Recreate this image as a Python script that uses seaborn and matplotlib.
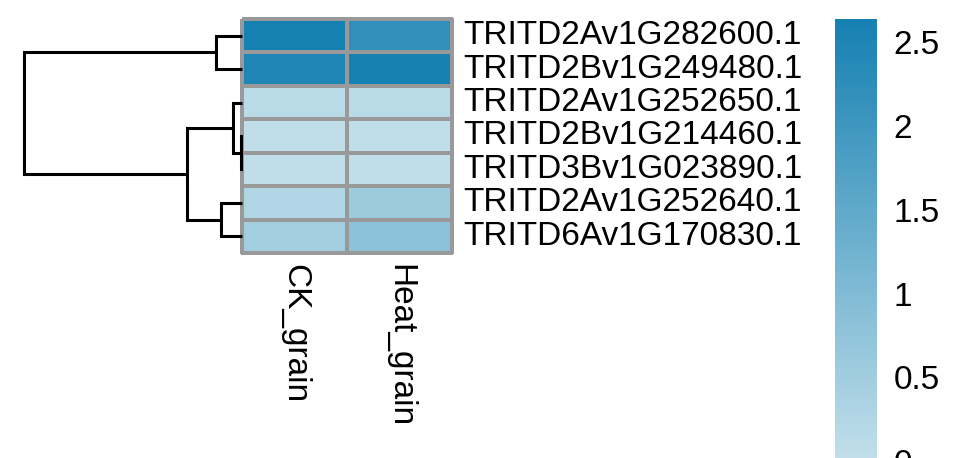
import numpy as np
import pandas as pd
import matplotlib
matplotlib.use('Agg')
import matplotlib.pyplot as plt
from matplotlib.colors import LinearSegmentedColormap
import seaborn as sns

# data (rows already in dendrogram order)
genes = ['TRITD2Av1G282600.1', 'TRITD2Bv1G249480.1', 'TRITD2Av1G252650.1',
         'TRITD2Bv1G214460.1', 'TRITD3Bv1G023890.1', 'TRITD2Av1G252640.1',
         'TRITD6Av1G170830.1']
samples = ['CK_grain', 'Heat_grain']
ck_grain = [2.64, 2.50, 0.15, 0.05, 0.04, 0.27, 0.48]
heat_grain = [2.20, 2.60, 0.15, 0.05, 0.05, 0.56, 0.82]
cbar_ticks = [0, 0.5, 1, 1.5, 2, 2.5]
cbar_labels = ['0', '0.5', '1', '1.5', '2', '2.5']

df = pd.DataFrame({'CK_grain': ck_grain, 'Heat_grain': heat_grain}, index=genes)


def complete_linkage(X):
    # small hierarchical clustering, euclidean distance + complete linkage
    n = len(X)
    D = np.sqrt(((X[:, None, :] - X[None, :, :]) ** 2).sum(-1))
    members = {i: [i] for i in range(n)}
    merges = []
    nid = n
    while len(members) > 1:
        keys = list(members)
        best = None
        for i in range(len(keys)):
            for j in range(i + 1, len(keys)):
                a, b = keys[i], keys[j]
                d = D[np.ix_(members[a], members[b])].max()
                if best is None or d < best[2]:
                    best = (a, b, d)
        a, b, d = best
        members[nid] = members.pop(a) + members.pop(b)
        merges.append((a, b, d, nid))
        nid += 1
    return merges


sns.set_style('white')
plt.rcParams['font.family'] = ['Liberation Sans', 'DejaVu Sans']
plt.rcParams['text.color'] = 'black'
plt.rcParams['xtick.color'] = 'black'
plt.rcParams['ytick.color'] = 'black'

W, H = 961, 458
fig = plt.figure(figsize=(W / 100, H / 100), dpi=100)


def px_axes(x0, y0, x1, y1):
    return fig.add_axes([x0 / W, 1 - y1 / H, (x1 - x0) / W, (y1 - y0) / H])


ax_hm = px_axes(242, 19, 452, 253)
ax_den = px_axes(24, 19, 242, 253)
ax_cb = px_axes(835, 19, 877, 461)

cmap = LinearSegmentedColormap.from_list('blues', ['#c2dfea', '#1580b2'])

sns.heatmap(df, ax=ax_hm, cmap=cmap, vmin=0, vmax=max(ck_grain + heat_grain),
            linewidths=1.6, linecolor='#999999', cbar_ax=ax_cb,
            xticklabels=True, yticklabels=True)
ax_hm.collections[0].set_clip_on(False)

ax_hm.yaxis.tick_right()
ax_hm.set_yticklabels(genes, rotation=0, fontsize=24, va='center', color='black')
ax_hm.set_xticklabels(samples, rotation=270, fontsize=24, ha='center', va='top',
                      color='black')
ax_hm.tick_params(axis='both', length=0)
ax_hm.tick_params(axis='y', pad=8)
ax_hm.tick_params(axis='x', pad=8)
ax_hm.set_xlabel('')
ax_hm.set_ylabel('')

# colorbar
ax_cb.set_yticks(cbar_ticks)
ax_cb.set_yticklabels(cbar_labels, fontsize=24, color='black')
ax_cb.tick_params(axis='y', length=0, pad=12)
for sp in ax_cb.spines.values():
    sp.set_visible(False)

# row dendrogram
merges = complete_linkage(df.values)
pos = {i: i + 0.5 for i in range(len(genes))}
hgt = {i: 0.0 for i in range(len(genes))}
for a, b, d, nid in merges:
    for c in (a, b):
        ax_den.plot([hgt[c], d], [pos[c], pos[c]], color='black', lw=2.2,
                    solid_capstyle='butt', clip_on=False)
    ax_den.plot([d, d], [pos[a], pos[b]], color='black', lw=2.2,
                solid_capstyle='projecting', clip_on=False)
    pos[nid] = (pos[a] + pos[b]) / 2
    hgt[nid] = d
ax_den.set_xlim(merges[-1][2], 0)
ax_den.set_ylim(len(genes), 0)
ax_den.axis('off')

fig.savefig('out.png', dpi=100)
